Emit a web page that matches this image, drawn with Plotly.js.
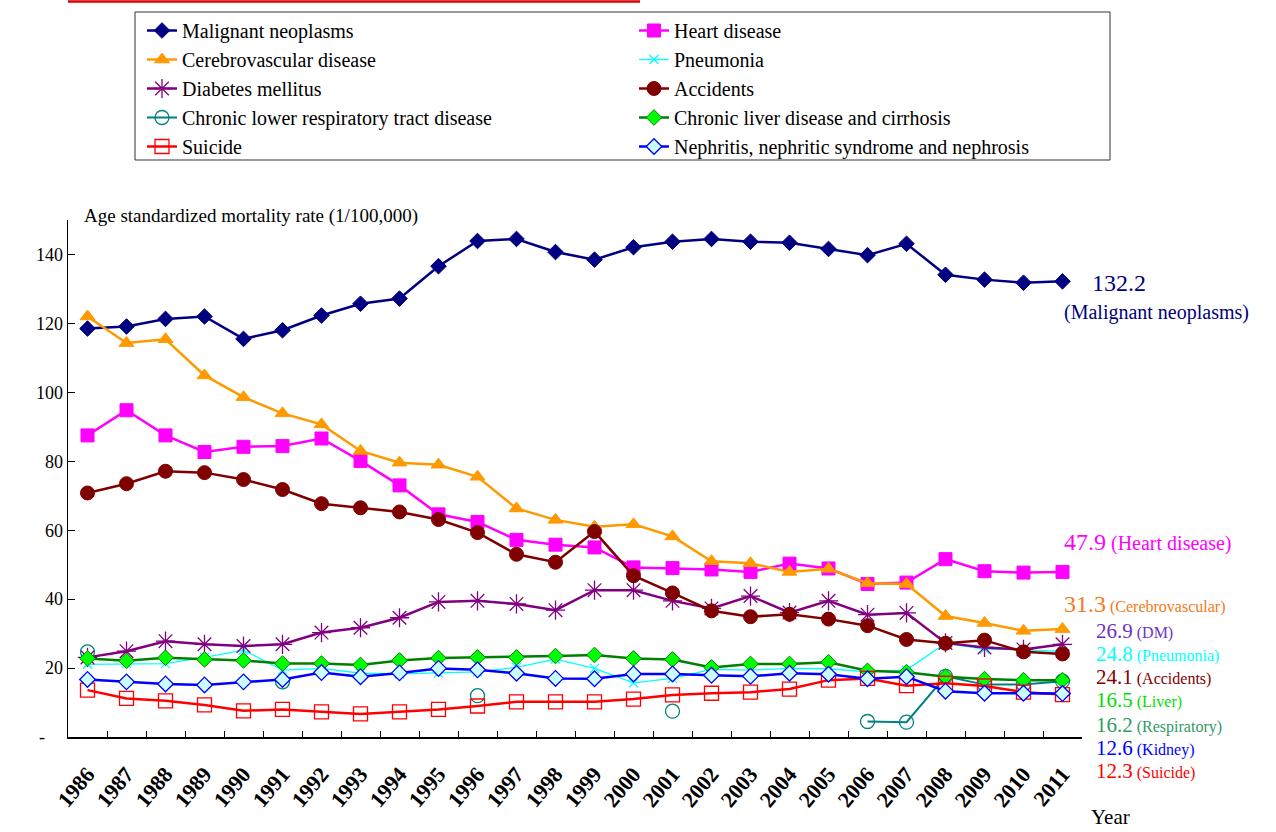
<!DOCTYPE html>
<html>
<head>
<meta charset="utf-8">
<script src="https://cdn.plot.ly/plotly-3.0.1.min.js"></script>
<style>
  html, body { margin: 0; padding: 0; background: #ffffff; }
  #chart { width: 1276px; height: 832px; }
</style>
</head>
<body>
<div id="chart"></div>
<script>
// ---- Data ----
var years = ['1986','1987','1988','1989','1990','1991','1992','1993','1994','1995','1996','1997','1998',
             '1999','2000','2001','2002','2003','2004','2005','2006','2007','2008','2009','2010','2011'];

var malignant = [118.5,119.1,121.3,122.0,115.5,118.0,122.3,125.7,127.2,136.6,143.9,144.5,140.7,
                 138.5,142.1,143.7,144.5,143.7,143.4,141.6,139.8,143.1,134.1,132.7,131.8,132.2];
var heart = [87.5,94.8,87.5,82.7,84.2,84.4,86.6,80.1,73.0,64.6,62.4,57.2,55.8,
             55.0,49.2,49.0,48.6,47.9,50.3,48.9,44.4,44.8,51.6,48.1,47.7,47.9];
var cerebro = [122.0,114.3,115.4,104.9,98.6,93.9,90.7,83.0,79.6,79.0,75.5,66.3,63.0,
               61.0,61.7,58.2,51.0,50.4,47.9,48.8,44.6,44.4,35.1,33.1,30.8,31.3];
var pneumonia = [21.1,21.3,21.3,23.1,25.2,19.4,19.9,18.5,18.3,18.6,18.9,20.2,22.6,
                 19.9,15.7,17.0,19.6,19.4,19.9,19.8,18.9,19.4,27.2,25.5,25.3,24.8];
var diabetes = [23.1,24.9,27.8,26.9,26.4,26.9,30.3,31.7,34.6,39.2,39.5,38.6,36.8,
                42.6,42.6,39.5,37.3,40.9,36.1,39.5,35.5,36.0,27.3,26.0,25.4,26.9];
var accidents = [70.8,73.5,77.1,76.7,74.7,71.8,67.7,66.5,65.3,63.1,59.3,53.0,50.7,
                 59.6,46.8,41.8,36.6,34.9,35.6,34.2,32.3,28.3,27.2,28.1,24.7,24.1];
var respiratory = [24.7,null,null,null,null,16.0,null,null,null,null,12.0,null,null,
                   null,null,7.5,null,null,null,null,4.5,4.3,17.6,15.2,15.2,16.2];
var liver = [22.8,22.1,23.0,22.5,22.2,21.3,21.3,20.9,22.2,22.9,23.1,23.1,23.5,
             23.8,22.8,22.5,20.2,21.2,21.2,21.7,19.2,18.8,17.5,16.8,16.5,16.5];
var suicide = [13.6,11.2,10.5,9.3,7.6,8.0,7.3,6.7,7.3,8.0,9.0,10.2,10.2,
               10.2,11.0,12.2,12.7,13.0,13.9,16.5,17.0,14.9,15.6,14.8,13.0,12.3];
var kidney = [16.7,16.0,15.4,15.1,16.0,16.7,18.7,17.5,18.6,19.9,19.5,18.5,17.0,
              16.9,18.3,18.3,17.9,17.6,18.5,18.2,16.9,17.5,13.3,12.7,12.7,12.6];

var yTickVals = [0,20,40,60,80,100,120,140];
var yTickText = ['-\u00a0\u00a0\u00a0\u00a0','20','40','60','80','100','120','140'];

// end-of-series labels: [value text, description, colour]
var endLabels = [
  ['132.2', '(Malignant neoplasms)', '#000080'],
  ['47.9', '(Heart disease)', '#FF00FF'],
  ['31.3', '(Cerebrovascular)', '#F47920'],
  ['26.9', '(DM)', '#7030C0'],
  ['24.8', '(Pneumonia)', '#00FFFF'],
  ['24.1', '(Accidents)', '#800000'],
  ['16.5', '(Liver)', '#00E000'],
  ['16.2', '(Respiratory)', '#339966'],
  ['12.6', '(Kidney)', '#0000FF'],
  ['12.3', '(Suicide)', '#FF0000']
];

// ---- Layout geometry (pixels) ----
var W = 1276, H = 832;
var M = {l: 68, r: 194, t: 220, b: 95, autoexpand: false};
var plotW = W - M.l - M.r, plotH = H - M.t - M.b;
function px(x) { return (x - M.l) / plotW; }
function py(y) { return (H - M.b - y) / plotH; }

var serif = 'Liberation Serif, Times New Roman, serif';

function tr(name, leg, y, lineColor, lineWidth, symbol, size, fill, mlineColor, mlineWidth) {
  return {
    type: 'scatter', mode: 'lines+markers', name: name, legend: leg, x: years, y: y,
    connectgaps: false,
    line: {color: lineColor, width: lineWidth},
    marker: {symbol: symbol, size: size, color: fill, line: {color: mlineColor, width: mlineWidth}}
  };
}

var traces = [
  tr('Malignant neoplasms', 'legend', malignant, '#000080', 2.5, 'diamond', 12, '#000080', '#000080', 1),
  tr('Heart disease', 'legend2', heart, '#FF00FF', 2.5, 'square', 13, '#FF00FF', '#FF00FF', 1),
  tr('Cerebrovascular disease', 'legend', cerebro, '#FF9900', 2.5, 'triangle-up', 13, '#FF9900', '#FF9900', 1),
  tr('Pneumonia', 'legend2', pneumonia, '#00FFFF', 1.3, 'x-thin-open', 9, '#00FFFF', '#00FFFF', 1.3),
  tr('Diabetes mellitus', 'legend', diabetes, '#800080', 2.5, 'asterisk-open', 16, '#800080', '#800080', 1.3),
  tr('Accidents', 'legend2', accidents, '#800000', 2.5, 'circle', 14, '#800000', '#800000', 1),
  tr('Chronic lower respiratory tract disease', 'legend', respiratory, '#008080', 2, 'circle-open', 14, '#008080', '#008080', 1.3),
  tr('Chronic liver disease and cirrhosis', 'legend2', liver, '#008000', 2.5, 'diamond', 12, '#00FF00', '#008000', 1),
  tr('Suicide', 'legend', suicide, '#FF0000', 2.5, 'square-open', 14, '#FF0000', '#FF0000', 1.3),
  tr('Nephritis, nephritic syndrome and nephrosis', 'legend2', kidney, '#0000FF', 2.5, 'diamond', 12, '#CCFFFF', '#0000FF', 1.3)
];

var annotations = [];
annotations.push({
  xref: 'paper', yref: 'paper', x: px(82), y: py(216), xanchor: 'left', yanchor: 'middle',
  text: 'Age standardized mortality rate (1/100,000)', showarrow: false,
  font: {family: serif, size: 19, color: '#000000'}
});
annotations.push({
  xref: 'paper', yref: 'paper', x: px(1089), y: py(831), xanchor: 'left', yanchor: 'bottom',
  text: 'Year', showarrow: false, font: {family: serif, size: 21, color: '#000000'}
});

var labelPos = [[1090, 283], [1062, 542], [1062, 604], [1094, 630.5], [1094, 653.5], [1094, 676.5],
                [1094, 700], [1094, 725], [1094, 748], [1094, 771]];
annotations.push({
  xref: 'paper', yref: 'paper', x: px(labelPos[0][0]), y: py(labelPos[0][1]), xanchor: 'left', yanchor: 'middle',
  text: endLabels[0][0], showarrow: false, font: {family: serif, size: 24, color: endLabels[0][2]}
});
annotations.push({
  xref: 'paper', yref: 'paper', x: px(1062), y: py(312), xanchor: 'left', yanchor: 'middle',
  text: endLabels[0][1], showarrow: false, font: {family: serif, size: 20, color: endLabels[0][2]}
});
for (var i = 1; i < endLabels.length; i++) {
  var small = (i === 1) ? 20 : 16;
  var big = (i <= 2) ? 24 : 21;
  annotations.push({
    xref: 'paper', yref: 'paper', x: px(labelPos[i][0]), y: py(labelPos[i][1]), xanchor: 'left', yanchor: 'middle',
    text: '<span style="font-size:' + big + 'px">' + endLabels[i][0] + '</span> ' + endLabels[i][1],
    showarrow: false, font: {family: serif, size: small, color: endLabels[i][2]}
  });
}

var legendCommon = {
  orientation: 'v', xref: 'container', yref: 'container',
  xanchor: 'left', yanchor: 'top',
  bgcolor: 'rgba(0,0,0,0)', borderwidth: 0,
  font: {family: serif, size: 20, color: '#000000'},
  traceorder: 'normal', tracegroupgap: 0
};
var legend1 = Object.assign({}, legendCommon, {x: 142 / W, y: 1 - 11 / H});
var legend2 = Object.assign({}, legendCommon, {x: 634 / W, y: 1 - 11 / H});

var layout = {
  width: W, height: H,
  margin: M,
  paper_bgcolor: '#ffffff', plot_bgcolor: '#ffffff',
  font: {family: serif, color: '#000000'},
  showlegend: true,
  legend: legend1,
  legend2: legend2,
  xaxis: {
    type: 'category', range: [-0.5, 25.5], fixedrange: true,
    showline: true, linecolor: '#000000', linewidth: 1.5,
    ticks: 'inside', tickson: 'boundaries', ticklen: 6, tickcolor: '#000000', tickwidth: 1,
    tickangle: -50, ticklabelstandoff: 14,
    tickfont: {family: serif, size: 22, color: '#000000', weight: 'bold'},
    showgrid: false, zeroline: false
  },
  yaxis: {
    range: [0, 150], fixedrange: true,
    showline: true, linecolor: '#000000', linewidth: 1.5,
    ticks: 'inside', ticklen: 7, tickcolor: '#000000', tickwidth: 1,
    tickvals: yTickVals, ticktext: yTickText,
    tickfont: {family: serif, size: 18, color: '#000000'},
    showgrid: false, zeroline: false
  },
  annotations: annotations,
  shapes: [
    { type: 'line', xref: 'paper', yref: 'paper', x0: px(68), x1: px(640), y0: py(1.5), y1: py(1.5),
      line: {color: '#DD0000', width: 2.5} },
    { type: 'rect', xref: 'paper', yref: 'paper', x0: px(135), x1: px(1110), y0: py(12), y1: py(160),
      line: {color: '#333333', width: 1}, fillcolor: 'rgba(0,0,0,0)', layer: 'below' }
  ]
};

Plotly.newPlot('chart', traces, layout, {displayModeBar: false, staticPlot: true});
</script>
</body>
</html>
